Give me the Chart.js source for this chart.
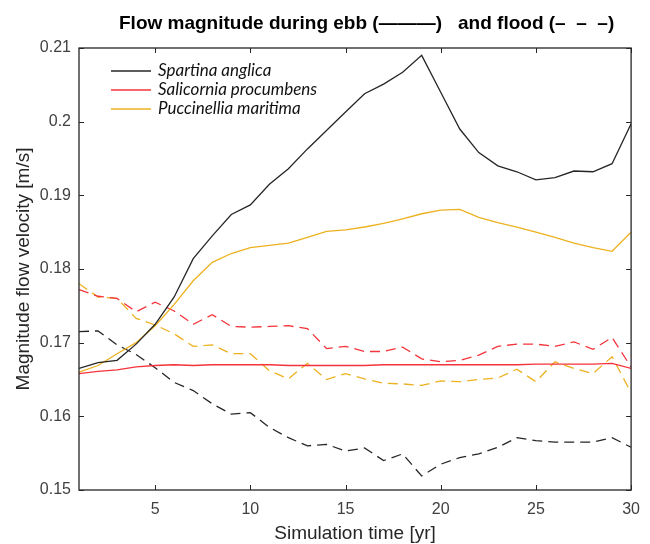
<!DOCTYPE html>
<html>
<head>
<meta charset="utf-8">
<script src="https://cdn.jsdelivr.net/npm/chart.js@4.4.1/dist/chart.umd.min.js"></script>
<style>
  html, body { margin: 0; padding: 0; background: #fff; }
  #wrap { width: 650px; height: 544px; }
</style>
</head>
<body>
<div id="wrap"><canvas id="flowChart" width="650" height="544"></canvas></div>
<script>
// --- data ---
const years = [1, 2, 3, 4, 5, 6, 7, 8, 9, 10, 11, 12, 13, 14, 15, 16, 17, 18, 19, 20, 21, 22, 23, 24, 25, 26, 27, 28, 29, 30];

// ebb (solid)
const spartinaEbb = [0.1665, 0.1673, 0.1676, 0.1698, 0.1725, 0.1762, 0.1814, 0.1845, 0.1874, 0.1887, 0.1915, 0.1936, 0.1963, 0.1988, 0.2013, 0.2038, 0.2051, 0.2067, 0.2090, 0.2040, 0.1990, 0.1958, 0.1940, 0.1932, 0.1921, 0.1924, 0.1933, 0.1932, 0.1943, 0.1997];
const salicorniaEbb = [0.1658, 0.1661, 0.1663, 0.1667, 0.1669, 0.1670, 0.1669, 0.1670, 0.1670, 0.1670, 0.1670, 0.1669, 0.1669, 0.1669, 0.1669, 0.1669, 0.1670, 0.1670, 0.1670, 0.1670, 0.1670, 0.1670, 0.1670, 0.1670, 0.1671, 0.1671, 0.1671, 0.1671, 0.1672, 0.1665];
const puccinelliaEbb = [0.1660, 0.1669, 0.1685, 0.1700, 0.1723, 0.1752, 0.1784, 0.1809, 0.1821, 0.1829, 0.1832, 0.1835, 0.1843, 0.1851, 0.1853, 0.1857, 0.1862, 0.1868, 0.1875, 0.1880, 0.1881, 0.1870, 0.1863, 0.1857, 0.1850, 0.1843, 0.1835, 0.1829, 0.1824, 0.1850];

// flood (dashed)
const spartinaFlood = [0.1715, 0.1716, 0.1697, 0.1684, 0.1666, 0.1646, 0.1635, 0.1617, 0.1603, 0.1605, 0.1585, 0.1571, 0.1560, 0.1562, 0.1553, 0.1557, 0.1540, 0.1549, 0.1519, 0.1535, 0.1544, 0.1549, 0.1558, 0.1571, 0.1567, 0.1565, 0.1565, 0.1565, 0.1571, 0.1558];
const salicorniaFlood = [0.1772, 0.1763, 0.1760, 0.1742, 0.1755, 0.1743, 0.1725, 0.1738, 0.1722, 0.1721, 0.1722, 0.1723, 0.1719, 0.1692, 0.1695, 0.1688, 0.1688, 0.1694, 0.1678, 0.1674, 0.1676, 0.1683, 0.1695, 0.1698, 0.1698, 0.1695, 0.1701, 0.1691, 0.1707, 0.1667];
const puccinelliaFlood = [0.1780, 0.1762, 0.1760, 0.1733, 0.1724, 0.1712, 0.1695, 0.1697, 0.1685, 0.1685, 0.1662, 0.1651, 0.1672, 0.1650, 0.1658, 0.1651, 0.1645, 0.1644, 0.1642, 0.1648, 0.1647, 0.1650, 0.1652, 0.1664, 0.1647, 0.1674, 0.1665, 0.1658, 0.1681, 0.1632];

const xTicks = [5, 10, 15, 20, 25, 30];
const yTicks = [0.15, 0.16, 0.17, 0.18, 0.19, 0.2, 0.21];

const speciesNames = ["Spartina anglica", "Salicornia procumbens", "Puccinellia maritima"];
const speciesColors = ["#262626", "#f5333a", "#edb120"];

// title in two pieces, placed like the original
const titleEbb = "Flow magnitude during ebb (\u2014\u2014\u2014)";
const titleFlood = "and flood (\u2013  \u2013  \u2013)";

const DASH = [10, 6];
const LINE_W = 1.3;
const TICK_LEN = 5;
const AXIS_FONT = "'Liberation Sans', Arial, sans-serif";

function series(values, color, dashed, label) {
  return {
    label: label,
    data: years.map((yr, i) => ({ x: yr, y: values[i] })),
    borderColor: color,
    backgroundColor: color,
    borderWidth: LINE_W,
    borderDash: dashed ? DASH : [],
    pointRadius: 0,
    tension: 0,
    fill: false
  };
}

// --- Plugin: box, inward ticks, title and legend (MATLAB-like) ---
const matlabFrame = {
  id: "matlabFrame",
  afterDraw(chart) {
    const { ctx, chartArea: a, scales } = chart;
    ctx.save();
    ctx.strokeStyle = "#262626";
    ctx.lineWidth = 1.3;
    ctx.strokeRect(a.left, a.top, a.right - a.left, a.bottom - a.top);

    ctx.beginPath();
    xTicks.forEach(v => {
      const px = Math.round(scales.x.getPixelForValue(v)) + 0.5;
      ctx.moveTo(px, a.bottom);
      ctx.lineTo(px, a.bottom - TICK_LEN);
      ctx.moveTo(px, a.top);
      ctx.lineTo(px, a.top + TICK_LEN);
    });
    yTicks.forEach(v => {
      const py = Math.round(scales.y.getPixelForValue(v)) + 0.5;
      ctx.moveTo(a.left, py);
      ctx.lineTo(a.left + TICK_LEN, py);
      ctx.moveTo(a.right, py);
      ctx.lineTo(a.right - TICK_LEN, py);
    });
    ctx.lineWidth = 1;
    ctx.stroke();

    // title
    ctx.fillStyle = "#000";
    ctx.font = "bold 19px " + AXIS_FONT;
    ctx.textAlign = "left";
    ctx.textBaseline = "middle";
    ctx.fillText(titleEbb, 119, 24);
    ctx.fillText(titleFlood, 458, 24);

    // legend (solid samples only, like the original)
    ctx.font = "italic 17px Lato, 'Noto Sans', sans-serif";
    speciesNames.forEach((name, i) => {
      const y = 71 + i * 19;
      ctx.beginPath();
      ctx.strokeStyle = speciesColors[i];
      ctx.lineWidth = LINE_W;
      ctx.moveTo(111, y);
      ctx.lineTo(151, y);
      ctx.stroke();
      ctx.fillStyle = "#111";
      ctx.fillText(name, 158, y);
    });
    ctx.restore();
  }
};

const ctx = document.getElementById("flowChart");
new Chart(ctx, {
  type: "line",
  data: {
    datasets: [
      series(spartinaEbb, speciesColors[0], false, speciesNames[0]),
      series(salicorniaEbb, speciesColors[1], false, speciesNames[1]),
      series(puccinelliaEbb, speciesColors[2], false, speciesNames[2]),
      series(spartinaFlood, speciesColors[0], true, speciesNames[0] + " (flood)"),
      series(salicorniaFlood, speciesColors[1], true, speciesNames[1] + " (flood)"),
      series(puccinelliaFlood, speciesColors[2], true, speciesNames[2] + " (flood)")
    ]
  },
  options: {
    responsive: false,
    animation: false,
    layout: { padding: { top: 48, right: 2, left: 0, bottom: 0 } },
    plugins: {
      legend: { display: false },
      title: { display: false },
      tooltip: { enabled: false }
    },
    scales: {
      x: {
        type: "linear",
        min: 1,
        max: 30,
        afterBuildTicks: s => { s.ticks = xTicks.map(v => ({ value: v })); },
        afterFit: s => { s.height = 54; },
        grid: { display: false, drawTicks: false },
        border: { display: false },
        ticks: {
          padding: 10,
          color: "#404040",
          font: { family: AXIS_FONT, size: 16 },
          maxRotation: 0
        },
        title: {
          display: true,
          text: "Simulation time [yr]",
          color: "#262626",
          font: { family: AXIS_FONT, size: 19, lineHeight: 1 },
          padding: { top: 0, bottom: 1 }
        }
      },
      y: {
        min: 0.15,
        max: 0.21,
        afterBuildTicks: s => { s.ticks = yTicks.map(v => ({ value: v })); },
        afterFit: s => { s.width = 79; },
        grid: { display: false, drawTicks: false },
        border: { display: false },
        ticks: {
          padding: 8,
          color: "#404040",
          font: { family: AXIS_FONT, size: 16 },
          callback: v => String(Number(v.toFixed(2)))
        },
        title: {
          display: true,
          text: "Magnitude flow velocity [m/s]",
          color: "#262626",
          font: { family: AXIS_FONT, size: 19, lineHeight: 1 },
          padding: { top: 14, bottom: 0 }
        }
      }
    }
  },
  plugins: [matlabFrame]
});
</script>
</body>
</html>
